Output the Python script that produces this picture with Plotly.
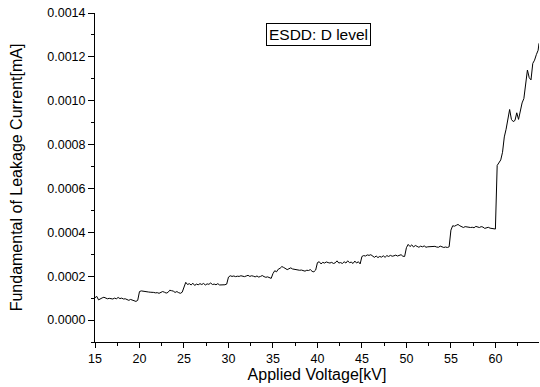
import numpy as np
import plotly.graph_objects as go

# Applied voltage samples [kV]
voltage_kv = [round(15 + 0.2 * i, 1) for i in range(250)] + [64.9]

# Fundamental of leakage current, in units of 1e-4 mA, per 5 kV segment
seg_15_20 = [1.02, 1.08, 0.92, 0.98, 1.01, 1.04, 0.99, 0.97, 0.99, 0.97,
             0.96, 1.00, 0.97, 1.03, 0.98, 1.00, 0.96, 0.97, 0.93, 0.90,
             0.94, 0.91, 0.87, 0.85, 0.90]
seg_20_25 = [1.30, 1.33, 1.31, 1.29, 1.30, 1.28, 1.27, 1.28, 1.26, 1.24,
             1.25, 1.22, 1.25, 1.30, 1.27, 1.23, 1.26, 1.36, 1.34, 1.32,
             1.26, 1.30, 1.25, 1.22, 1.27]
seg_25_30 = [1.50, 1.72, 1.62, 1.66, 1.60, 1.68, 1.58, 1.64, 1.61, 1.66,
             1.62, 1.67, 1.60, 1.65, 1.63, 1.69, 1.62, 1.64, 1.61, 1.66,
             1.60, 1.60, 1.62, 1.61, 1.64]
seg_30_35 = [1.96, 2.02, 1.99, 2.01, 1.98, 2.00, 1.99, 2.02, 2.00, 1.98,
             2.01, 2.04, 1.99, 2.02, 2.00, 1.97, 2.01, 1.96, 1.99, 2.03,
             1.98, 1.95, 1.97, 1.92, 1.90]
seg_35_40 = [2.12, 2.25, 2.20, 2.32, 2.36, 2.44, 2.40, 2.35, 2.30, 2.34,
             2.38, 2.33, 2.31, 2.32, 2.29, 2.27, 2.28, 2.25, 2.23, 2.27,
             2.26, 2.30, 2.22, 2.20, 2.28]
seg_40_45 = [2.62, 2.66, 2.56, 2.63, 2.60, 2.65, 2.62, 2.60, 2.63, 2.58,
             2.61, 2.70, 2.60, 2.62, 2.58, 2.66, 2.60, 2.70, 2.62, 2.64,
             2.58, 2.69, 2.60, 2.66, 2.56]
seg_45_50 = [2.90, 2.94, 2.92, 2.97, 2.95, 2.98, 2.90, 2.86, 2.92, 2.85,
             2.90, 2.87, 2.93, 2.86, 2.94, 2.90, 2.95, 2.91, 2.93, 2.96,
             2.92, 2.94, 2.98, 2.91, 2.90]
seg_50_55 = [3.30, 3.45, 3.35, 3.43, 3.33, 3.40, 3.36, 3.32, 3.37, 3.34,
             3.38, 3.32, 3.34, 3.35, 3.33, 3.34, 3.36, 3.33, 3.32, 3.37,
             3.34, 3.31, 3.33, 3.31, 3.34]
seg_55_60 = [4.10, 4.30, 4.28, 4.32, 4.36, 4.30, 4.26, 4.22, 4.26, 4.24,
             4.25, 4.22, 4.23, 4.21, 4.27, 4.24, 4.22, 4.26, 4.24, 4.18,
             4.21, 4.23, 4.19, 4.17, 4.16]
seg_60_65 = [4.15, 7.05, 7.20, 7.30, 7.65, 8.35, 8.70, 9.10, 9.60, 9.15,
             9.05, 9.10, 9.45, 9.15, 9.60, 9.90, 10.10, 10.80, 11.40, 11.05,
             10.95, 11.70, 11.85, 12.10, 12.30, 12.62]

current_e4 = (seg_15_20 + seg_20_25 + seg_25_30 + seg_30_35 + seg_35_40 +
              seg_40_45 + seg_45_50 + seg_50_55 + seg_55_60 + seg_60_65)
current_ma = [v * 1e-4 for v in current_e4]

y_ticks = [0.0, 0.0002, 0.0004, 0.0006, 0.0008, 0.0010, 0.0012, 0.0014]
y_tick_labels = ["0.0000", "0.0002", "0.0004", "0.0006", "0.0008", "0.0010", "0.0012", "0.0014"]
x_ticks = [15, 20, 25, 30, 35, 40, 45, 50, 55, 60]

FONT = "Liberation Sans, Arial, sans-serif"
X_RANGE = [15, 64.9]
Y_RANGE = [-0.0001, 0.0014]

fig = go.Figure()
fig.add_trace(go.Scatter(x=voltage_kv, y=current_ma, mode="lines",
                         line=dict(color="black", width=1), showlegend=False))

fig.update_layout(
    width=540, height=387,
    margin=dict(l=95, r=1, t=13, b=45),
    paper_bgcolor="white", plot_bgcolor="white",
    font=dict(family=FONT, size=12.5, color="black"),
    xaxis=dict(
        range=X_RANGE, tickvals=x_ticks, ticks="outside", ticklen=5, tickwidth=1,
        tickcolor="black", showline=True, linecolor="black", linewidth=1,
        showgrid=False, zeroline=False,
        minor=dict(ticks="outside", dtick=2.5, tick0=15, ticklen=3, tickcolor="black", showgrid=False),
        title=dict(text="Applied Voltage[kV]", font=dict(size=16), standoff=2),
        tickfont=dict(size=12.5),
    ),
    yaxis=dict(
        range=Y_RANGE, tickvals=y_ticks, ticktext=y_tick_labels, ticks="outside", ticklen=6,
        tickwidth=1, tickcolor="black", showline=True, linecolor="black", linewidth=1,
        showgrid=False, zeroline=False,
        minor=dict(ticks="outside", dtick=0.0001, tick0=0, ticklen=3, tickcolor="black", showgrid=False),
        title=dict(text="Fundamental of Leakage Current[mA]", font=dict(size=16), standoff=20),
        tickfont=dict(size=12.5),
    ),
    xaxis2=dict(
        overlaying="x", side="top", anchor="y", range=X_RANGE, tickvals=x_ticks,
        ticks="inside", ticklen=5, tickcolor="black", showticklabels=False,
        showline=True, linecolor="black", linewidth=1, showgrid=False, zeroline=False,
        minor=dict(ticks="inside", dtick=2.5, tick0=15, ticklen=3, tickcolor="black", showgrid=False),
    ),
    yaxis2=dict(
        overlaying="y", side="right", anchor="x", range=Y_RANGE, tickvals=y_ticks,
        ticks="inside", ticklen=6, tickcolor="black", showticklabels=False,
        showline=True, linecolor="black", linewidth=1, showgrid=False, zeroline=False,
        minor=dict(ticks="inside", dtick=0.0001, tick0=0, ticklen=3, tickcolor="black", showgrid=False),
    ),
    annotations=[dict(
        x=40.1, y=0.0013, xref="x", yref="y", text="ESDD: D level", showarrow=False,
        font=dict(size=15.5, family=FONT, color="black"), bordercolor="black", borderwidth=1,
        borderpad=2, bgcolor="white",
    )],
)

fig.write_html("out.html")
